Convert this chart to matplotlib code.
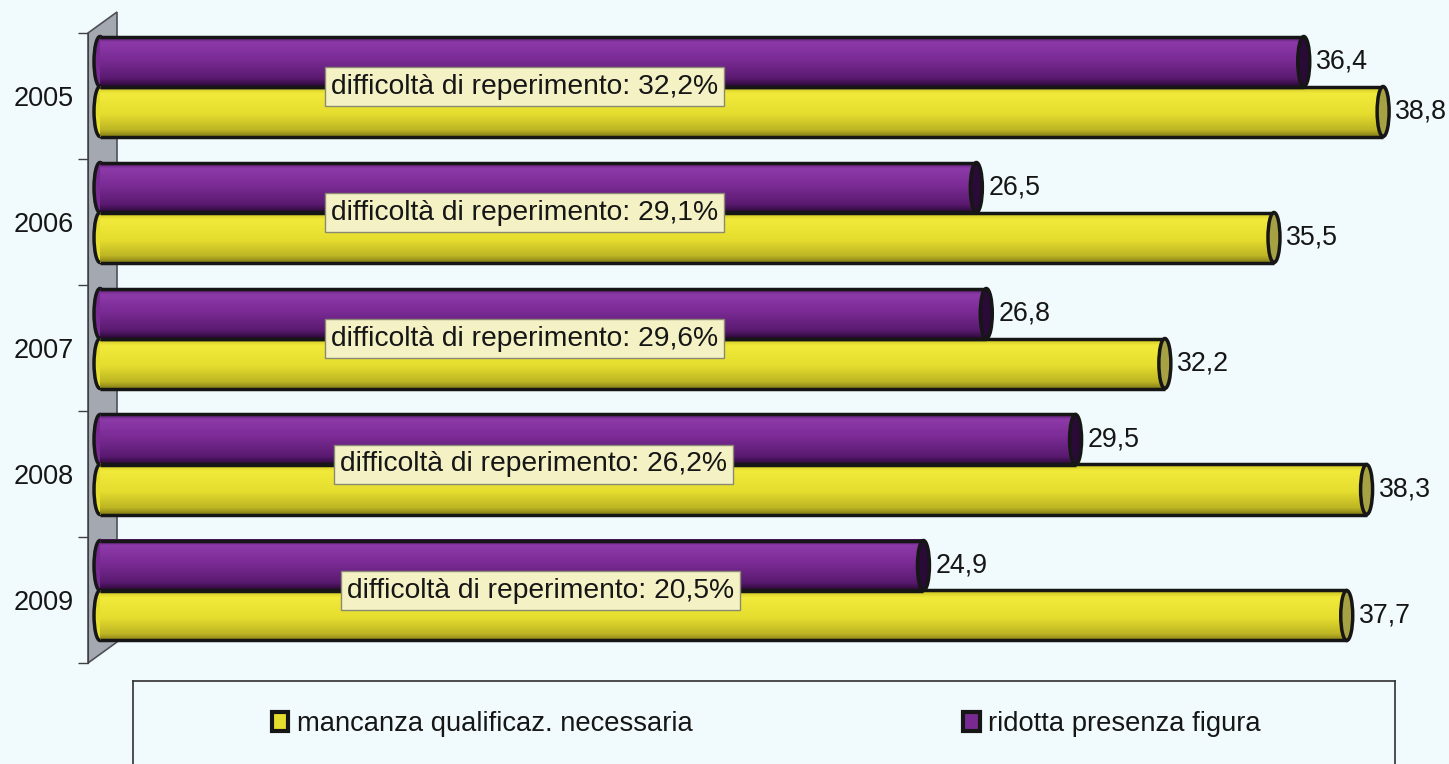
import numpy as np
import matplotlib.pyplot as plt
from matplotlib.colors import LinearSegmentedColormap
from matplotlib.patches import Ellipse, Polygon, Patch

years = ["2005", "2006", "2007", "2008", "2009"]
ridotta = [36.4, 26.5, 26.8, 29.5, 24.9]
mancanza = [38.8, 35.5, 32.2, 38.3, 37.7]
difficolta = ["32,2%", "29,1%", "29,6%", "26,2%", "20,5%"]
legend_labels = ["mancanza qualificaz. necessaria", "ridotta presenza figura"]

W, H = 1449, 764
bg = "#f1fafc"
dark = "#161616"
plt.rcParams['font.family'] = ['Liberation Sans', 'DejaVu Sans']

px = 33.07   # pixels per unit on x
x0 = 100     # pixel of value 0
gap = 126    # pixels between categories

fig = plt.figure(figsize=(W / 100, H / 100), dpi=100, facecolor=bg)
ax = fig.add_axes([88 / W, 1 - 680 / H, (W - 88) / W, 680 / H])
ax.set_facecolor(bg)

cmap_p = LinearSegmentedColormap.from_list(
    "p", [(0, "#4a1460"), (0.12, "#8c3aa8"), (0.45, "#7c2c96"), (0.85, "#5a1a70"), (1, "#2e0a3a")])
cmap_y = LinearSegmentedColormap.from_list(
    "y", [(0, "#c8c020"), (0.15, "#f2ea3a"), (0.55, "#e6de2e"), (0.88, "#bdb524"), (1, "#8a8418")])

y = np.arange(len(years))
h = 50 / gap
y_p = y - 34.5 / gap
y_y = y + 15.5 / gap
grad = np.linspace(0, 1, 120).reshape(-1, 1)
cap_w = 12 / px


def cylinders(vals, ys, base, cmap, cap_face):
    ax.barh(ys, vals, height=h, color=base, edgecolor="none", zorder=2.4)
    for v, yc in zip(vals, ys):
        ax.add_patch(Ellipse((0, yc), cap_w, h, facecolor=base, edgecolor=dark, lw=2.5, zorder=2.2))
        ax.imshow(grad, cmap=cmap, extent=(0, v, yc + h / 2, yc - h / 2), origin="upper",
                  aspect="auto", zorder=2.5, interpolation="bilinear")
        ax.hlines([yc - h / 2, yc + h / 2], 0, v, colors=dark, lw=2.5, zorder=3)
        ax.add_patch(Ellipse((v, yc), cap_w, h, facecolor=cap_face, edgecolor=dark, lw=2.5, zorder=4))
        ax.annotate(f"{v:.1f}".replace(".", ","), xy=(v, yc), xytext=(12, 0),
                    textcoords="offset pixels", va="center", ha="left", fontsize=19.3, color=dark)


# grey side wall
wall = Polygon([(-12 / px, -0.5), (17 / px, -0.5 - 21 / gap), (17 / px, 4.5 - 21 / gap), (-12 / px, 4.5)],
               closed=True, facecolor="#a4a8b0", edgecolor="#505058", lw=1.2, zorder=1, clip_on=False)
ax.add_patch(wall)

cylinders(ridotta, y_p, "#782a92", cmap_p, "#2a0a36")
cylinders(mancanza, y_y, "#e6de2e", cmap_y, "#a6a244")

box_left = [331, 331, 331, 340, 347]
for i, d in enumerate(difficolta):
    ax.text((box_left[i] - x0) / px, y[i] - 9.5 / gap, "difficoltà di reperimento: " + d,
            fontsize=20.3, color=dark, va="center", ha="left", zorder=5,
            bbox=dict(boxstyle="square,pad=0.22", facecolor="#f4f2c4", edgecolor="#8a8a72", lw=1))

ax.set_xlim((88 - x0) / px, (W - x0) / px)
ax.set_ylim((680 - 96) / gap, -96 / gap)
ax.set_yticks(y)
ax.set_yticklabels(years, fontsize=19.5, color=dark)
ax.set_yticks(np.arange(len(years) + 1) - 0.5, minor=True)
ax.tick_params(axis="y", which="major", length=0, pad=10)
ax.tick_params(axis="y", which="minor", length=7.2, width=1, color="#404040")
ax.set_xticks([])
for s in ["top", "right", "bottom"]:
    ax.spines[s].set_visible(False)
ax.spines["left"].set_bounds(-0.5, 4.5)
ax.spines["left"].set_color("#404040")

# legend box
lax = fig.add_axes([133 / W, -0.1, (1395 - 133) / W, 83 / H + 0.1])
lax.set_facecolor(bg)
lax.set_xticks([])
lax.set_yticks([])
for s in lax.spines.values():
    s.set_color("#303030")
    s.set_linewidth(1.2)

handles = [Patch(facecolor="#e6de2e", edgecolor=dark, lw=3),
           Patch(facecolor="#782a92", edgecolor=dark, lw=3)]
fig.legend(handles, legend_labels, loc="center left", bbox_to_anchor=(272 / W, 1 - 724 / H),
           ncol=2, frameon=False, fontsize=19.7, columnspacing=9.9, handlelength=0.6,
           handleheight=0.7, handletextpad=0.3, borderpad=0, borderaxespad=0, labelcolor=dark)

fig.savefig("out.png", dpi=100, facecolor=bg)
